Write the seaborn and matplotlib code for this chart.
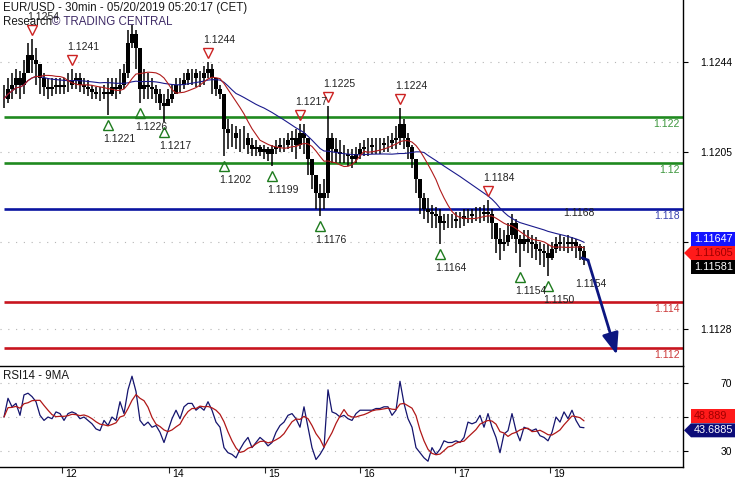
import matplotlib
matplotlib.use("Agg")
import matplotlib.pyplot as plt
import matplotlib.transforms as mtrans
from matplotlib.patches import Polygon
import numpy as np
import pandas as pd
import seaborn as sns

# --- data (1 point = 1 hour) ---
close = [
    1.1228, 1.1232, 1.1234, 1.1237, 1.1234, 1.1239, 1.1247, 1.1245, 1.1243, 1.1237,
    1.1233, 1.1232, 1.1233, 1.1234, 1.1233, 1.1234, 1.1234, 1.1236, 1.1237, 1.1234,
    1.1233, 1.1232, 1.1231, 1.1230, 1.1230, 1.1231, 1.1230, 1.1233, 1.1232, 1.1234,
    1.1239, 1.1252, 1.1256, 1.1250, 1.1232, 1.1234, 1.1233, 1.1232, 1.1230, 1.1226,
    1.1225, 1.1228, 1.1230, 1.1234, 1.1234, 1.1236, 1.1239, 1.1239, 1.1237, 1.1237,
    1.1239, 1.1241, 1.1237, 1.1232, 1.1230, 1.1215, 1.1213, 1.1213, 1.1211, 1.1211,
    1.1211, 1.1208, 1.1206, 1.1207, 1.1205, 1.1206, 1.1204, 1.1206, 1.1207, 1.1208,
    1.1208, 1.1210, 1.1211, 1.1208, 1.1213, 1.1211, 1.1202, 1.1195, 1.1187, 1.1185,
    1.1187, 1.1211, 1.1206, 1.1205, 1.1204, 1.1204, 1.1203, 1.1202, 1.1204, 1.1206,
    1.1207, 1.1207, 1.1208, 1.1208, 1.1208, 1.1209, 1.1209, 1.1210, 1.1211, 1.1217,
    1.1211, 1.1207, 1.1202, 1.1193, 1.1185, 1.1180, 1.1179, 1.1178, 1.1177, 1.1174,
    1.1175, 1.1175, 1.1175, 1.1176, 1.1176, 1.1177, 1.1177, 1.1178, 1.1178, 1.1178,
    1.1179, 1.1178, 1.1174, 1.1167, 1.1165, 1.1166, 1.1169, 1.1174, 1.1167, 1.1165,
    1.1167, 1.1166, 1.1165, 1.1163, 1.1162, 1.1161, 1.1159, 1.1163, 1.1165, 1.1166,
    1.1166, 1.1165, 1.1166, 1.1164, 1.1162, 1.1158,
]
high = [
    1.1234, 1.1237, 1.1239, 1.1241, 1.1240, 1.1245, 1.1252, 1.1254, 1.1250, 1.1243,
    1.1239, 1.1237, 1.1237, 1.1237, 1.1237, 1.1237, 1.1239, 1.1241, 1.1239, 1.1239,
    1.1237, 1.1236, 1.1234, 1.1233, 1.1233, 1.1234, 1.1237, 1.1237, 1.1237, 1.1241,
    1.1243, 1.1258, 1.1260, 1.1258, 1.1247, 1.1241, 1.1239, 1.1237, 1.1234, 1.1232,
    1.1230, 1.1232, 1.1234, 1.1237, 1.1237, 1.1239, 1.1241, 1.1241, 1.1241, 1.1240,
    1.1242, 1.1244, 1.1243, 1.1237, 1.1234, 1.1230, 1.1219, 1.1217, 1.1216, 1.1215,
    1.1216, 1.1213, 1.1211, 1.1210, 1.1208, 1.1208, 1.1207, 1.1208, 1.1210, 1.1211,
    1.1211, 1.1213, 1.1214, 1.1215, 1.1217, 1.1217, 1.1208, 1.1202, 1.1195, 1.1191,
    1.1193, 1.1225, 1.1213, 1.1211, 1.1210, 1.1208, 1.1206, 1.1206, 1.1207, 1.1209,
    1.1210, 1.1211, 1.1211, 1.1211, 1.1211, 1.1211, 1.1212, 1.1213, 1.1216, 1.1224,
    1.1219, 1.1213, 1.1208, 1.1202, 1.1193, 1.1187, 1.1185, 1.1182, 1.1181, 1.1180,
    1.1178, 1.1178, 1.1178, 1.1179, 1.1179, 1.1180, 1.1180, 1.1180, 1.1181, 1.1181,
    1.1182, 1.1184, 1.1180, 1.1174, 1.1172, 1.1171, 1.1174, 1.1178, 1.1176, 1.1169,
    1.1171, 1.1171, 1.1169, 1.1168, 1.1166, 1.1165, 1.1165, 1.1166, 1.1168, 1.1169,
    1.1168, 1.1169, 1.1168, 1.1167, 1.1165, 1.1164,
]
low = [
    1.1224, 1.1226, 1.1228, 1.1230, 1.1228, 1.1230, 1.1239, 1.1239, 1.1234, 1.1230,
    1.1229, 1.1228, 1.1229, 1.1230, 1.1230, 1.1230, 1.1231, 1.1232, 1.1232, 1.1231,
    1.1230, 1.1229, 1.1228, 1.1228, 1.1227, 1.1228, 1.1221, 1.1229, 1.1228, 1.1230,
    1.1232, 1.1237, 1.1250, 1.1241, 1.1226, 1.1228, 1.1228, 1.1228, 1.1226, 1.1223,
    1.1218, 1.1225, 1.1226, 1.1230, 1.1231, 1.1232, 1.1234, 1.1234, 1.1233, 1.1233,
    1.1234, 1.1237, 1.1230, 1.1229, 1.1228, 1.1203, 1.1206, 1.1207, 1.1206, 1.1205,
    1.1206, 1.1204, 1.1203, 1.1203, 1.1203, 1.1202, 1.1201, 1.1199, 1.1204, 1.1205,
    1.1205, 1.1206, 1.1205, 1.1202, 1.1206, 1.1204, 1.1195, 1.1189, 1.1180, 1.1177,
    1.1180, 1.1185, 1.1200, 1.1200, 1.1200, 1.1200, 1.1199, 1.1198, 1.1200, 1.1202,
    1.1203, 1.1203, 1.1204, 1.1204, 1.1204, 1.1205, 1.1205, 1.1206, 1.1206, 1.1208,
    1.1206, 1.1202, 1.1198, 1.1187, 1.1178, 1.1176, 1.1174, 1.1172, 1.1172, 1.1165,
    1.1171, 1.1172, 1.1172, 1.1172, 1.1172, 1.1173, 1.1174, 1.1174, 1.1175, 1.1174,
    1.1175, 1.1174, 1.1167, 1.1161, 1.1158, 1.1162, 1.1164, 1.1167, 1.1161, 1.1155,
    1.1162, 1.1161, 1.1159, 1.1158, 1.1156, 1.1155, 1.1151, 1.1158, 1.1161, 1.1162,
    1.1162, 1.1161, 1.1162, 1.1159, 1.1158, 1.1156,
]
rsi = [
    50, 61, 56, 58, 51, 63, 64, 62, 59, 51,
    48, 50, 49, 53, 52, 48, 52, 53, 52, 49,
    50, 48, 46, 43, 42, 48, 45, 50, 48, 59,
    52, 66, 74, 65, 48, 45, 47, 44, 45, 41,
    35, 42, 49, 54, 49, 56, 58, 58, 54, 56,
    54, 59, 54, 47, 44, 32, 29, 28, 26, 31,
    35, 38, 32, 35, 38, 36, 33, 35, 41, 45,
    47, 51, 52, 49, 44, 56, 44, 32, 25, 28,
    32, 66, 53, 52, 50, 51, 49, 48, 52, 54,
    54, 54, 54, 55, 55, 56, 56, 51, 54, 71,
    58, 49, 44, 32, 29, 26, 24, 32, 28, 31,
    36, 35, 35, 36, 35, 38, 47, 46, 47, 51,
    44, 52, 44, 38, 29, 40, 42, 52, 42, 36,
    44, 43, 42, 43, 39, 38, 36, 41, 50, 47,
    53, 49, 54, 48, 44, 43.7,
]

# pivots (index into the series, label text)
peak_idx = [7, 17, 51, 74, 81, 99, 121, 141]
peak_lbl = ["1.1254", "1.1241", "1.1244", "1.1217", "1.1225", "1.1224", "1.1184", "1.1168"]
peak_mark = [True, True, True, True, True, True, True, False]
trough_idx = [26, 34, 40, 55, 67, 79, 109, 129, 136, 144]
trough_lbl = ["1.1221", "1.1226", "1.1217", "1.1202", "1.1199", "1.1176",
              "1.1164", "1.1154", "1.1150", "1.1154"]
trough_mark = [True] * 9 + [False]

# support / resistance levels
level_vals = [1.122, 1.12, 1.118, 1.114, 1.112]
level_cols = ["#1f8a1f", "#1f8a1f", "#0a14a0", "#c8141e", "#c8141e"]
level_txt = ["#3c963c", "#3c963c", "#3a44b0", "#cc3a3a", "#cc3a3a"]

# forecast arrow
fc_idx = [144.5, 146.0, 153.2]
fc_val = [1.1159, 1.1158, 1.1117]

# scale ticks (labels hidden behind the value tags are left blank)
price_ticks = [1.1244, 1.1205, 1.1166, 1.1128]
price_tick_lbl = ["1.1244", "1.1205", "", "1.1128"]
rsi_ticks = [70, 50, 30]
rsi_tick_lbl = ["70", "", "30"]
day_ticks = [14.5, 41.25, 65.25, 89, 112.75, 136.5]
day_labels = ["12", "14", "15", "16", "17", "19"]

price_tag_vals = [1.11647, 1.11605, 1.11581]
rsi_tag_vals = [48.889, 43.6885]

# --- figure ---
sns.set_style("white")
plt.rcParams["font.family"] = ["Liberation Sans", "DejaVu Sans"]

W, H = 735, 480
fig = plt.figure(figsize=(W / 100, H / 100), dpi=100)
ax = fig.add_axes([0, 1 - 366 / H, 683 / W, 366 / H])
ax_rsi = fig.add_axes([0, 1 - 467 / H, 683 / W, 101 / H])

XMIN, XMAX = -1, 169.75
ax.set_xlim(XMIN, XMAX)
ax_rsi.set_xlim(XMIN, XMAX)
ax.set_ylim(1.11121, 1.12708)
ax_rsi.set_ylim(20.6, 80)

df = pd.DataFrame({"idx": np.arange(len(close)), "close": close,
                   "high": high, "low": low, "rsi": rsi})
df["open"] = df["close"].shift(1).fillna(df["close"])
df["ma_fast"] = df["close"].rolling(10, min_periods=1).mean()
df["ma_slow"] = df["close"].rolling(25, min_periods=1).mean()
df["rsi_ma"] = df["rsi"].rolling(5, min_periods=1).mean()

navy = "#0c1680"
lab_fs = 7.5

# grid + ticks
for a, ticks, labels in [(ax, price_ticks, price_tick_lbl),
                         (ax_rsi, rsi_ticks, rsi_tick_lbl)]:
    a.yaxis.tick_right()
    a.set_yticks(ticks)
    a.set_yticklabels(labels)
    a.tick_params(axis="y", right=True, direction="out", length=3.6, width=0.8,
                  pad=31.5, labelsize=lab_fs, colors="black")
    for t in a.get_yticklabels():
        t.set_horizontalalignment("right")
    a.grid(axis="y", linestyle=(0, (1, 6)), color="#b5b5b5", lw=0.8)
    a.grid(axis="x", visible=False)
    for s in a.spines.values():
        s.set_color("black")
        s.set_linewidth(1.0)
    a.spines["left"].set_visible(False)

ax.spines["top"].set_visible(False)
ax.spines["bottom"].set_visible(False)
ax.set_xticks([])

ax_rsi.set_xticks(day_ticks)
ax_rsi.set_xticklabels([])
ax_rsi.tick_params(axis="x", bottom=True, direction="out", length=4, width=0.8)
for t, lab in zip(day_ticks, day_labels):
    ax_rsi.annotate(lab, xy=(t, 0), xycoords=("data", "axes fraction"),
                    xytext=(3, -2), textcoords="offset pixels", ha="left", va="top",
                    fontsize=lab_fs, color="black", annotation_clip=False)

# levels
for lv, col, tcol in zip(level_vals, level_cols, level_txt):
    ax.hlines(lv, 0, XMAX, color=col, lw=1.9, zorder=2)
    ax.annotate(f"{lv:g}", xy=(1, lv), xycoords=("axes fraction", "data"),
                xytext=(-3, -2), textcoords="offset pixels", ha="right", va="top",
                color=tcol, fontsize=lab_fs)

# candles
ax.vlines(df["idx"], df["low"], df["high"], color="black", lw=1.1, zorder=3)
body_lo = np.minimum(df["open"], df["close"])
body_h = np.abs(df["close"] - df["open"])
ax.bar(df["idx"], body_h, bottom=body_lo, width=0.8, color="black", lw=0, zorder=3)

# moving averages
sns.lineplot(data=df, x="idx", y="ma_slow", ax=ax, color="#1a1a8c", lw=0.8, zorder=4)
sns.lineplot(data=df, x="idx", y="ma_fast", ax=ax, color="#b01c1c", lw=0.8, zorder=4)
ax.set_xlabel("")
ax.set_ylabel("")

# pivots
up_tr = mtrans.offset_copy(ax.transData, fig=fig, y=9, units="dots")
dn_tr = mtrans.offset_copy(ax.transData, fig=fig, y=-10, units="dots")
for i, lab, mk in zip(peak_idx, peak_lbl, peak_mark):
    v = high[i]
    if mk:
        ax.plot(i, v, marker="v", ms=7.5, mfc="none", mec="#cc2222", mew=1.0,
                transform=up_tr, zorder=6)
    ax.annotate(lab, xy=(i, v), xytext=(-5, 22), textcoords="offset pixels",
                ha="left", va="center", fontsize=lab_fs, color="#222222", zorder=7)
for i, lab, mk in zip(trough_idx, trough_lbl, trough_mark):
    v = low[i]
    if mk:
        ax.plot(i, v, marker="^", ms=7.5, mfc="none", mec="#1e7b1e", mew=1.0,
                transform=dn_tr, zorder=6)
    ax.annotate(lab, xy=(i, v), xytext=(-5, -24), textcoords="offset pixels",
                ha="left", va="center", fontsize=lab_fs, color="#222222", zorder=7)

# forecast arrow
ax.plot(fc_idx[:2], fc_val[:2], color=navy, lw=2.0, solid_capstyle="round", zorder=8)
ax.annotate("", xy=(fc_idx[2], fc_val[2]), xytext=(fc_idx[1], fc_val[1]),
            arrowprops=dict(arrowstyle="-|>,head_length=0.65,head_width=0.25",
                            color=navy, lw=2.0, mutation_scale=20,
                            shrinkA=0, shrinkB=0), zorder=8)

# RSI
sns.lineplot(data=df, x="idx", y="rsi", ax=ax_rsi, color="#14146e", lw=0.9)
sns.lineplot(data=df, x="idx", y="rsi_ma", ax=ax_rsi, color="#b01818", lw=0.9)
ax_rsi.set_xlabel("")
ax_rsi.set_ylabel("")

# header texts
ident = mtrans.IdentityTransform()
fig.text(3, H - 8, "EUR/USD - 30min - 05/20/2019 05:20:17 (CET)", transform=ident,
         fontsize=8.3, color="#1a1a1a", va="center", ha="left")
t_res = fig.text(3, H - 22, "Research", transform=ident, fontsize=8.3,
                 color="#1a1a1a", va="center", ha="left")
ax.annotate("© TRADING CENTRAL", xy=(1, 0.5), xycoords=t_res, ha="left", va="center",
            fontsize=8.3, color="#3e2a66", annotation_clip=False)
fig.text(3, H - 376, "RSI14 - 9MA", transform=ident, fontsize=8.3,
         color="#1a1a1a", va="center", ha="left")


# value tags on the right scale
def stack(ys, gap):
    out = list(ys)
    for k in range(1, len(out)):
        if out[k - 1] - out[k] < gap:
            out[k] = out[k - 1] - gap
    shift = np.mean(ys) - np.mean(out)
    return [y + shift for y in out]


def tag(y, text, bg, fg, pointer, x0=691, h=14):
    if pointer:
        pts = [(684, y), (x0, y + h / 2), (W, y + h / 2), (W, y - h / 2), (x0, y - h / 2)]
    else:
        pts = [(x0, y - h / 2), (W, y - h / 2), (W, y + h / 2), (x0, y + h / 2)]
    fig.add_artist(Polygon(pts, closed=True, transform=ident, facecolor=bg,
                           edgecolor="none", zorder=20))
    fig.text(x0 + 3, y, text, transform=ident, fontsize=7.8, color=fg,
             va="center", ha="left", zorder=21)


py = stack([ax.transData.transform((0, v))[1] for v in price_tag_vals], 14)
for y, v, bg, fg, pt in zip(py, price_tag_vals, ["#1414ff", "#ff1a1a", "#000000"],
                            ["white", "#a00000", "white"], [False, True, False]):
    tag(y, f"{v:.5f}", bg, fg, pt)

ry = stack([ax_rsi.transData.transform((0, v))[1] for v in rsi_tag_vals], 14)
for y, v, bg, fg, pt in zip(ry, rsi_tag_vals, ["#ff1a1a", "#0c0c78"],
                            ["#a00000", "white"], [False, True]):
    tag(y, str(v), bg, fg, pt)

fig.savefig("out.png", dpi=100)
plt.close(fig)
